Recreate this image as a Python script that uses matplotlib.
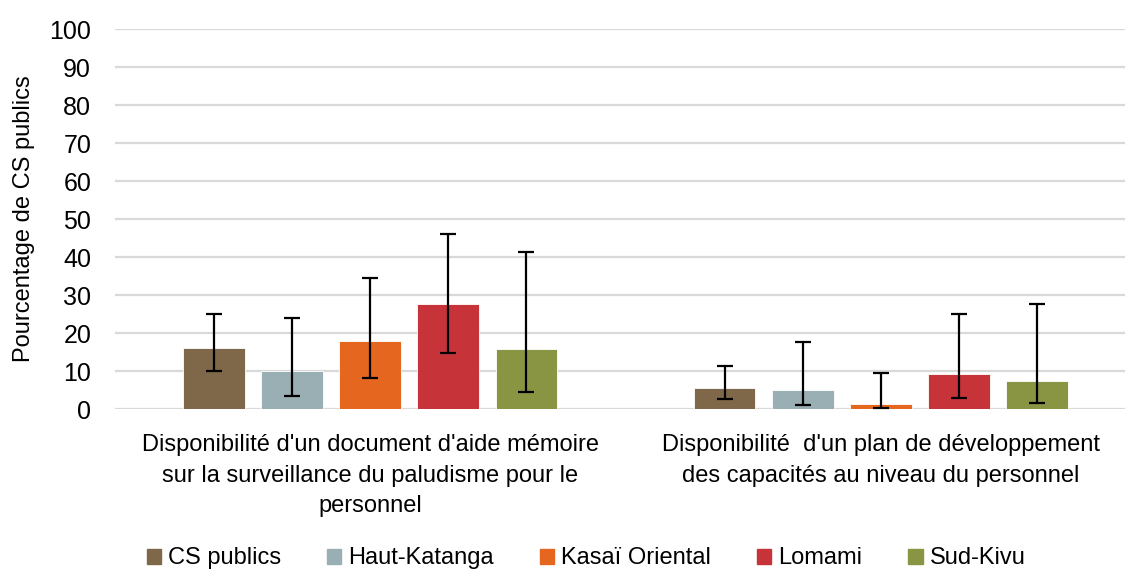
import numpy as np
import matplotlib.pyplot as plt
from matplotlib.patches import Patch

# kategori indikator
categories = [
    "Disponibilité d'un document d'aide mémoire\nsur la surveillance du paludisme pour le\npersonnel",
    "Disponibilité  d'un plan de développement\ndes capacités au niveau du personnel",
]
series = ["CS publics", "Haut-Katanga", "Kasaï Oriental", "Lomami", "Sud-Kivu"]
colors = ["#7f6849", "#9aafb3", "#e5661f", "#c6343a", "#8a9544"]

# persentase per seri (baris = seri, kolom = kategori)
values = [
    [16.2, 5.5],
    [9.9, 4.9],
    [17.9, 1.3],
    [27.7, 9.2],
    [15.7, 7.5],
]
# batas bawah dan atas interval kepercayaan
ci_low = [
    [10.1, 2.7],
    [3.5, 1.1],
    [8.2, 0.2],
    [14.8, 2.9],
    [4.6, 1.6],
]
ci_high = [
    [25.0, 11.4],
    [23.9, 17.7],
    [34.4, 9.6],
    [46.1, 24.9],
    [41.3, 27.6],
]

plt.rcParams['font.family'] = ['Liberation Sans', 'DejaVu Sans']

fig = plt.figure(figsize=(11.25, 5.69), dpi=100)
ax = fig.add_axes([0.102, 0.281, 0.908, 0.668])

x = np.arange(len(categories))
slot = 0.153
width = 0.121
for i, s in enumerate(series):
    pos = x + (i - 2) * slot
    v = np.array(values[i])
    lo = v - np.array(ci_low[i])
    hi = np.array(ci_high[i]) - v
    ax.bar(pos, v, width, color=colors[i], edgecolor='white', linewidth=0.6, zorder=2)
    ax.errorbar(pos, v, yerr=[lo, hi], fmt='none', ecolor='black',
                elinewidth=1.6, capsize=5.5, capthick=1.6, zorder=3)

ax.set_xlim(-0.5, 1.5)
ax.set_ylim(0, 100)
ax.set_yticks(range(0, 101, 10))
ax.yaxis.grid(True, color='#d9d9d9', linewidth=1.6, zorder=0)
ax.set_axisbelow(True)
for sp in ax.spines.values():
    sp.set_visible(False)
ax.tick_params(axis='y', length=0, pad=17, labelsize=18)
ax.tick_params(axis='x', length=0, pad=18, labelsize=17)
ax.set_xticks(x)
ax.set_xticklabels(categories, linespacing=1.5)
ax.set_ylabel("Pourcentage de CS publics", fontsize=17, labelpad=10)

handles = [Patch(color=c) for c in colors]
fig.legend(handles, series, loc='lower center', bbox_to_anchor=(0.521, -0.038), ncol=5,
           frameon=False, handlelength=0.6, handleheight=0.6, handletextpad=0.3,
           columnspacing=1.95, prop={'size': 17})

fig.savefig('out.png', dpi=100)
